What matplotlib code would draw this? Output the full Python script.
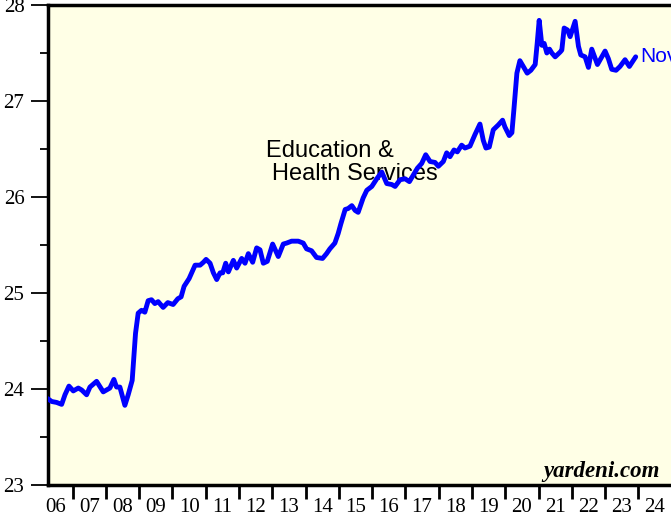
import matplotlib
matplotlib.use("Agg")
import matplotlib.pyplot as plt
from matplotlib.ticker import FixedLocator, NullFormatter, FixedFormatter

# ---- data ----
years = [
    2006.25, 2006.37, 2006.52, 2006.67, 2006.77, 2006.89, 2007.02, 2007.17, 2007.27, 2007.42,
    2007.52, 2007.72, 2007.92, 2008.12, 2008.24, 2008.32, 2008.42, 2008.57, 2008.67, 2008.79,
    2008.89, 2008.97, 2009.07, 2009.17, 2009.27, 2009.37, 2009.47, 2009.57, 2009.72, 2009.86,
    2010.02, 2010.16, 2010.26, 2010.35, 2010.50, 2010.68, 2010.83, 2010.93, 2011.01, 2011.13,
    2011.23, 2011.33, 2011.43, 2011.51, 2011.60, 2011.68, 2011.83, 2011.93, 2012.08, 2012.18,
    2012.28, 2012.41, 2012.53, 2012.63, 2012.73, 2012.85, 2013.01, 2013.18, 2013.33, 2013.43,
    2013.58, 2013.78, 2013.93, 2014.03, 2014.18, 2014.33, 2014.51, 2014.63, 2014.73, 2014.88,
    2014.98, 2015.06, 2015.19, 2015.28, 2015.39, 2015.49, 2015.58, 2015.73, 2015.84, 2015.99,
    2016.14, 2016.29, 2016.44, 2016.59, 2016.69, 2016.84, 2016.99, 2017.12, 2017.24, 2017.36,
    2017.49, 2017.61, 2017.74, 2017.89, 2017.99, 2018.14, 2018.24, 2018.34, 2018.46, 2018.56,
    2018.69, 2018.79, 2018.94, 2019.09, 2019.24, 2019.34, 2019.42, 2019.52, 2019.64, 2019.79,
    2019.92, 2019.99, 2020.12, 2020.20, 2020.26, 2020.35, 2020.44, 2020.54, 2020.66, 2020.77,
    2020.90, 2020.96, 2021.02, 2021.10, 2021.17, 2021.25, 2021.33, 2021.40, 2021.50, 2021.65,
    2021.70, 2021.77, 2021.87, 2021.95, 2022.10, 2022.20, 2022.27, 2022.40, 2022.50, 2022.60,
    2022.77, 2022.90, 2023.00, 2023.10, 2023.20, 2023.33, 2023.45, 2023.60, 2023.73, 2023.92,
]
values = [
    23.90, 23.87, 23.86, 23.84, 23.94, 24.03, 23.98, 24.01, 23.99, 23.94,
    24.02, 24.08, 23.97, 24.01, 24.10, 24.02, 24.02, 23.83, 23.94, 24.09,
    24.58, 24.79, 24.82, 24.80, 24.92, 24.93, 24.89, 24.91, 24.85, 24.90,
    24.88, 24.94, 24.96, 25.07, 25.15, 25.29, 25.29, 25.32, 25.35, 25.31,
    25.21, 25.14, 25.21, 25.21, 25.31, 25.22, 25.34, 25.26, 25.36, 25.31,
    25.41, 25.32, 25.47, 25.45, 25.31, 25.33, 25.51, 25.38, 25.51, 25.52,
    25.54, 25.54, 25.52, 25.46, 25.44, 25.37, 25.36, 25.41, 25.46, 25.52,
    25.62, 25.72, 25.87, 25.88, 25.91, 25.86, 25.84, 25.99, 26.07, 26.11,
    26.19, 26.26, 26.14, 26.13, 26.11, 26.18, 26.19, 26.16, 26.23, 26.30,
    26.35, 26.44, 26.37, 26.36, 26.32, 26.37, 26.46, 26.42, 26.49, 26.47,
    26.54, 26.51, 26.53, 26.65, 26.76, 26.59, 26.51, 26.52, 26.70, 26.75,
    26.80, 26.73, 26.64, 26.67, 26.91, 27.29, 27.42, 27.36, 27.29, 27.32,
    27.38, 27.60, 27.84, 27.58, 27.60, 27.50, 27.54, 27.50, 27.46, 27.51,
    27.53, 27.76, 27.74, 27.67, 27.83, 27.57, 27.48, 27.46, 27.35, 27.54,
    27.38, 27.46, 27.52, 27.44, 27.33, 27.32, 27.36, 27.43, 27.36, 27.46,
]
year_labels = ["06", "07", "08", "09", "10", "11", "12", "13", "14", "15",
               "16", "17", "18", "19", "20", "21", "22", "23", "24"]
y_ticks = [23, 24, 25, 26, 27, 28]
title_line1 = "Education &"
title_line2 = "Health Services"
last_label = "Nov"
credit = "yardeni.com"

# ---- figure ----
W, H = 671, 523
fig = plt.figure(figsize=(W / 100, H / 100), dpi=100)
fig.patch.set_facecolor("white")
ax = fig.add_axes([48 / W, (H - 485) / H, 641.6 / W, 480 / H])
ax.set_facecolor("#FFFFE6")

ax.plot(years, values, color="#0000FF", lw=3.5, solid_joinstyle="round",
        solid_capstyle="round", zorder=3)

ax.set_xlim(2006.26, 2025.54)
ax.set_ylim(23, 28)

serif = ["Liberation Serif", "DejaVu Serif"]
sans = ["Liberation Sans", "DejaVu Sans"]

# y axis
ax.yaxis.set_major_locator(FixedLocator(y_ticks))
ax.yaxis.set_minor_locator(FixedLocator([v + 0.5 for v in y_ticks[:-1]]))
ax.set_yticklabels([str(v) for v in y_ticks], fontfamily=serif, fontsize=15)
ax.tick_params(axis="y", which="major", direction="out", length=12, width=1.3, pad=5)
ax.tick_params(axis="y", which="minor", direction="out", length=6, width=1.3)

# x axis: boundary ticks at years, labels at mid-years
start_year = 2006
bounds = [start_year + i for i in range(1, len(year_labels) + 1)]
mids = [start_year + i + 0.5 for i in range(len(year_labels))]
ax.xaxis.set_major_locator(FixedLocator(bounds))
ax.xaxis.set_major_formatter(NullFormatter())
ax.xaxis.set_minor_locator(FixedLocator(mids))
ax.xaxis.set_minor_formatter(FixedFormatter(year_labels))
ax.tick_params(axis="x", which="major", direction="out", length=10, width=2.0)
ax.tick_params(axis="x", which="minor", length=0, pad=9, labelsize=15)
for lab in ax.xaxis.get_minorticklabels():
    lab.set_fontfamily(serif)

for s in ["left", "top", "bottom"]:
    ax.spines[s].set_linewidth(2.5)
    ax.spines[s].set_color("black")
ax.spines["right"].set_visible(False)

# texts
ax.text(2012.80, 26.414, title_line1, fontfamily=sans, fontsize=17,
        ha="left", va="baseline", color="black", zorder=2)
ax.text(2012.98, 26.177, title_line2, fontfamily=sans, fontsize=17,
        ha="left", va="baseline", color="black", zorder=2)
ax.text(2024.05, 27.46, last_label, fontfamily=sans, fontsize=15,
        ha="left", va="center", color="#0000FF", zorder=4)
ax.text(2024.65, 23.086, credit, fontfamily=serif, fontsize=16.5,
        fontweight="bold", fontstyle="italic", ha="right", va="baseline",
        color="black", zorder=4)

fig.savefig("out.png", dpi=100, facecolor="white")
